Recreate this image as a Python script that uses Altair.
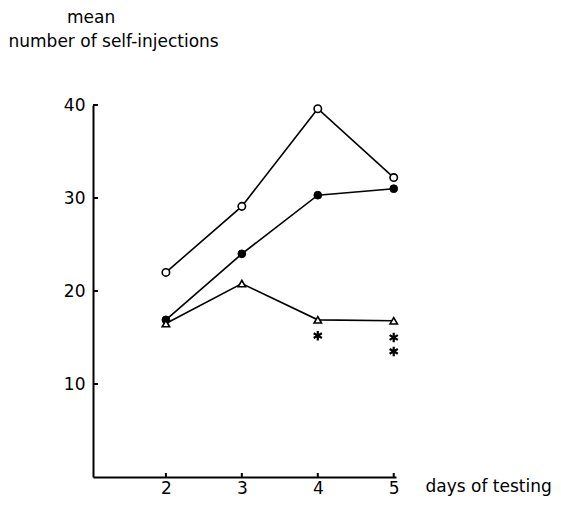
import altair as alt
import pandas as pd

days = [2, 3, 4, 5]
open_circles = [22.0, 29.1, 39.6, 32.2]
filled_circles = [16.9, 24.0, 30.3, 31.0]
open_triangles = [16.5, 20.8, 16.9, 16.8]

star_days = [4, 5, 5]
star_values = [15.2, 15.0, 13.5]

y_ticks = [10, 20, 30, 40]
x_ticks = [2, 3, 4, 5]

FONT = "DejaVu Sans"
W, H = 303, 372

series = pd.DataFrame({
    "day": days * 3,
    "value": open_circles + filled_circles + open_triangles,
    "group": ["open"] * 4 + ["filled"] * 4 + ["triangle"] * 4,
})
stars = pd.DataFrame({"day": star_days, "value": star_values})
yt = pd.DataFrame({"v": y_ticks})
xt = pd.DataFrame({"d": x_ticks})

xscale = alt.Scale(domain=[1.04, 5.03], nice=False, zero=False)
yscale = alt.Scale(domain=[0, 40], nice=False)

xaxis = alt.Axis(values=x_ticks, format="d", tickSize=0, labelFont=FONT,
                 labelFontSize=17, labelColor="black", labelPadding=3,
                 domainColor="black", domainWidth=2, grid=False,
                 title="days of testing", titleFont=FONT, titleFontSize=17,
                 titleFontWeight="normal", titleColor="black", titleAngle=0,
                 titleAlign="left", titleBaseline="alphabetic", titleX=332,
                 titleY=14, labelFlush=False)
yaxis = alt.Axis(values=y_ticks, format="d", tickSize=0, labelFont=FONT,
                 labelFontSize=17, labelColor="black", labelPadding=8,
                 domainColor="black", domainWidth=2, grid=False,
                 title="number of self-injections",
                 titleFont=FONT, titleFontSize=17, titleFontWeight="normal",
                 titleColor="black", titleAngle=0, titleAlign="left",
                 titleBaseline="alphabetic", titleX=-85, titleY=-59)

x_enc = alt.X("day:Q", scale=xscale, axis=xaxis)
y_enc = alt.Y("value:Q", scale=yscale, axis=yaxis)

base = alt.Chart(series)

lines = base.mark_line(color="black", strokeWidth=1.6).encode(
    x=x_enc, y=y_enc, detail="group:N")

pt_open = base.transform_filter(alt.datum.group == "open").mark_point(
    shape="circle", filled=True, fill="white", stroke="black", strokeWidth=1.6,
    size=55, opacity=1).encode(x="day:Q", y="value:Q")
pt_filled = base.transform_filter(alt.datum.group == "filled").mark_point(
    shape="circle", filled=True, fill="black", stroke="black", strokeWidth=1,
    size=60, opacity=1).encode(x="day:Q", y="value:Q")
pt_tri = base.transform_filter(alt.datum.group == "triangle").mark_point(
    shape="triangle-up", filled=True, fill="white", stroke="black",
    strokeWidth=1.6, size=55, opacity=1).encode(x="day:Q", y="value:Q")

star_mark = alt.Chart(stars).mark_point(
    shape="M0,-1L0,1M-0.87,-0.5L0.87,0.5M-0.87,0.5L0.87,-0.5",
    filled=False, stroke="black", strokeWidth=2.2, size=90, opacity=1
).encode(x="day:Q", y="value:Q")

ytick_rules = alt.Chart(yt).mark_rule(color="black", strokeWidth=2).encode(
    y="v:Q", x=alt.value(0), x2=alt.value(5))
xtick_rules = alt.Chart(xt).mark_rule(color="black", strokeWidth=2).encode(
    x="d:Q", y=alt.value(H), y2=alt.value(H - 4))

chart = alt.layer(lines, pt_open, pt_filled, pt_tri, star_mark,
                  ytick_rules, xtick_rules).properties(
    width=W, height=H,
    view=alt.ViewBackground(strokeWidth=0),
    title=alt.TitleParams(text="mean", anchor="start", frame="group",
                          dx=-26, dy=18, offset=10, baseline="alphabetic",
                          font=FONT, fontSize=17, fontWeight="normal",
                          color="black"),
    autosize="none",
    padding={"left": 85, "top": 97, "right": 157, "bottom": 23},
).configure_view(strokeWidth=0).configure(background="white")

chart.save("out.html", embed_options={"renderer": "svg", "actions": False})
